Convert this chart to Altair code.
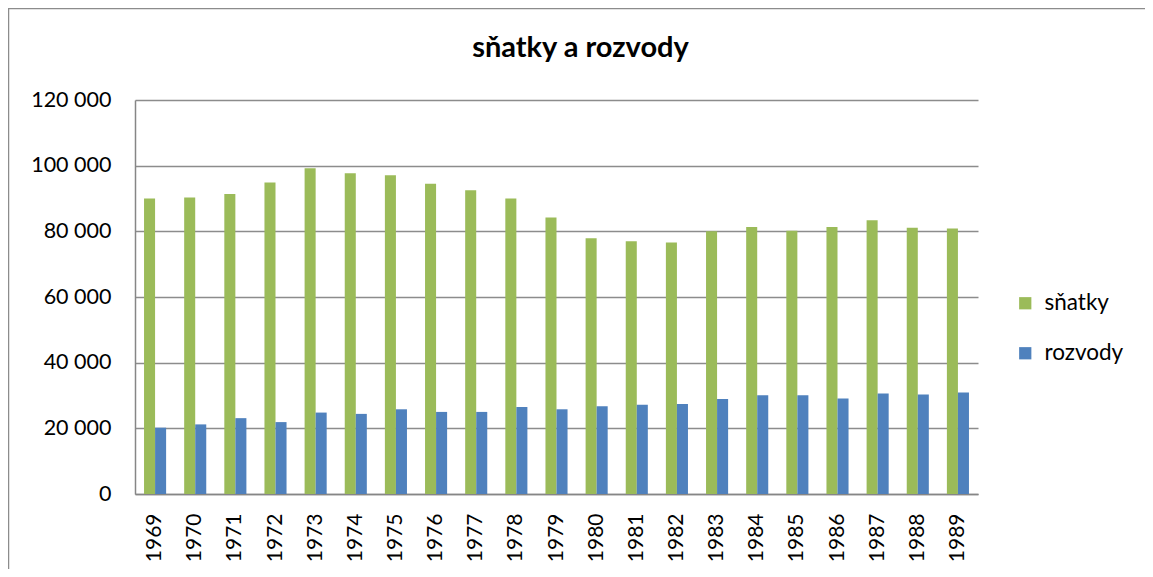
import altair as alt
import pandas as pd

years = ["1969", "1970", "1971", "1972", "1973", "1974", "1975", "1976", "1977", "1978",
         "1979", "1980", "1981", "1982", "1983", "1984", "1985", "1986", "1987", "1988", "1989"]
snatky = [90000, 90300, 91400, 94900, 99200, 97700, 97100, 94500, 92500, 90000,
          84200, 77900, 77000, 76600, 80000, 81300, 80200, 81300, 83400, 81100, 80900]
rozvody = [20200, 21200, 23100, 21900, 24800, 24400, 25800, 25000, 25000, 26500,
           25800, 26700, 27200, 27400, 28900, 30100, 30100, 29100, 30600, 30300, 30900]
series = ["sňatky", "rozvody"]
colors = ["#9BBB59", "#4F81BD"]
y_ticks = [0, 20000, 40000, 60000, 80000, 100000, 120000]
title_text = "sňatky a rozvody"

rows = []
for i, y in enumerate(years):
    rows.append({"rok": y, "typ": series[0], "pocet": snatky[i]})
    rows.append({"rok": y, "typ": series[1], "pocet": rozvody[i]})
df = pd.DataFrame(rows)

FONT = "Lato"
W, H = 843, 394

bars = alt.Chart(df).mark_bar().encode(
    x=alt.X("rok:N", sort=years,
            scale=alt.Scale(paddingInner=0.45, paddingOuter=0.225),
            axis=alt.Axis(title=None, labelAngle=-90, labelAlign="right", labelBaseline="middle",
                          labelFontSize=21, labelFont=FONT, labelColor="black", labelPadding=19,
                          ticks=False, domainColor="#868686", domainWidth=1.5)),
    xOffset=alt.XOffset("typ:N", sort=series, scale=alt.Scale(paddingInner=0, paddingOuter=0)),
    y=alt.Y("pocet:Q", scale=alt.Scale(domain=[0, 120000]),
            axis=alt.Axis(title=None, values=y_ticks,
                          labelExpr="replace(format(datum.value, ','), ',', ' ')",
                          labelFontSize=21.5, labelFont=FONT, labelColor="black", labelPadding=24,
                          grid=True, gridColor="#8c8c8c", gridWidth=1.5,
                          domainColor="#868686", domainWidth=1.5, ticks=False)),
    color=alt.Color("typ:N", sort=series,
                    scale=alt.Scale(domain=series, range=colors),
                    legend=alt.Legend(title=None, orient="none", legendX=879, legendY=192,
                                      symbolType="square", symbolSize=150, symbolStrokeWidth=0,
                                      labelFontSize=22.5, labelFont=FONT, labelColor="black",
                                      rowPadding=27, labelOffset=8)),
)

border = alt.Chart(pd.DataFrame({"a": [0]})).mark_rect(
    fill=None, stroke="#8c8c8c", strokeWidth=1.5, clip=False
).encode(
    x=alt.value(-126.5), x2=alt.value(1100), y=alt.value(-91.5), y2=alt.value(600)
)

title = alt.Chart(pd.DataFrame({"t": [title_text]})).mark_text(
    font=FONT, fontSize=29, fontWeight="bold", color="black", align="center", baseline="middle"
).encode(
    x=alt.value(W / 2 + 24), y=alt.value(-52), text="t:N"
)

chart = alt.layer(border, bars, title).properties(
    width=W, height=H,
    autosize=alt.AutoSizeParams(type="none"),
    padding={"left": 127, "top": 92, "right": 167, "bottom": 75},
).configure_view(stroke=None)

chart.save("out.html", embed_options={"renderer": "svg", "actions": False})
